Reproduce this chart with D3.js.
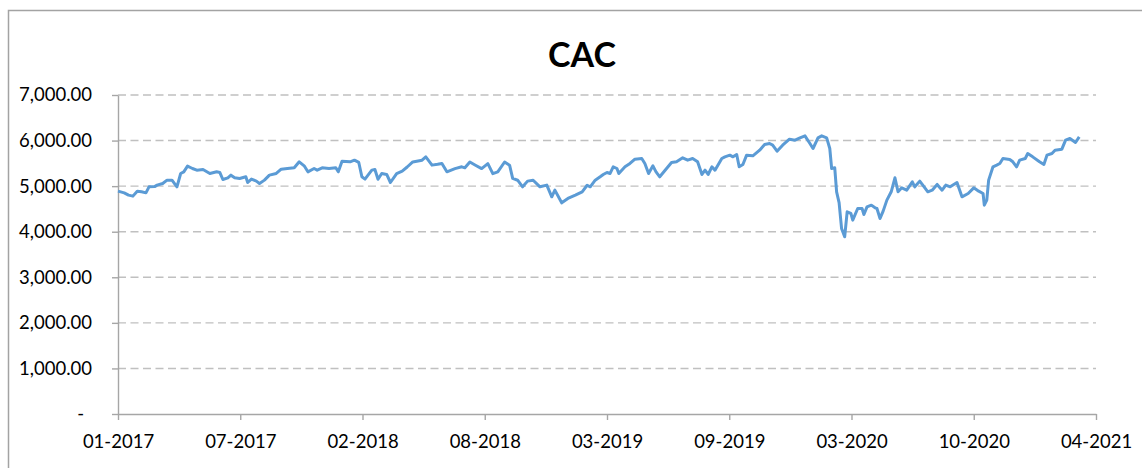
<html>

<head>
    <style>
        body { margin: 0; background: #fff; }
        text { font-family: Lato, "Open Sans", sans-serif; fill: #000; }
    </style>
</head>

<body>
    <svg id="container" height="468" width="1142">
        <g id="body"></g>
    </svg>
</body>
<script src="https://cdn.jsdelivr.net/npm/d3@7"></script>
<script>
    let title = "CAC"
    let yTicks = [0, 1000, 2000, 3000, 4000, 5000, 6000, 7000]
    // Excel puts a major tick every 197 days from the first date
    let xTickDates = ["2017-01-03", "2017-07-19", "2018-02-01", "2018-08-17", "2019-03-02",
        "2019-09-15", "2020-03-30", "2020-10-13", "2021-04-28"]

    // CAC 40 closes
    let cac2017 = [
        ["2017-01-03", 4890], ["2017-01-13", 4853], ["2017-01-20", 4803], ["2017-01-27", 4781],
        ["2017-02-03", 4890], ["2017-02-10", 4876], ["2017-02-17", 4853], ["2017-02-22", 4985],
        ["2017-03-03", 4990], ["2017-03-07", 5022], ["2017-03-16", 5059], ["2017-03-23", 5132],
        ["2017-03-31", 5132], ["2017-04-08", 4985], ["2017-04-14", 5278], ["2017-04-19", 5314],
        ["2017-04-25", 5439], ["2017-05-03", 5387], ["2017-05-10", 5351], ["2017-05-20", 5365],
        ["2017-05-31", 5278], ["2017-06-11", 5314], ["2017-06-16", 5300], ["2017-06-21", 5146],
        ["2017-06-29", 5183], ["2017-07-04", 5241], ["2017-07-10", 5183], ["2017-07-18", 5168],
        ["2017-07-28", 5205], ["2017-07-31", 5080], ["2017-08-06", 5154], ["2017-08-14", 5110],
        ["2017-08-19", 5059], ["2017-08-27", 5132], ["2017-09-04", 5241], ["2017-09-15", 5278],
        ["2017-09-23", 5373], ["2017-10-03", 5387], ["2017-10-14", 5402], ["2017-10-22", 5534],
        ["2017-10-30", 5446], ["2017-11-05", 5314], ["2017-11-15", 5387], ["2017-11-20", 5351],
        ["2017-11-28", 5402], ["2017-12-09", 5387], ["2017-12-20", 5402], ["2017-12-24", 5314],
        ["2017-12-30", 5548]
    ]
    let cac2018 = [
        ["2018-01-12", 5534], ["2018-01-19", 5570], ["2018-01-26", 5520], ["2018-01-31", 5205],
        ["2018-02-05", 5154], ["2018-02-16", 5351], ["2018-02-21", 5365], ["2018-02-26", 5150],
        ["2018-03-04", 5278], ["2018-03-12", 5256], ["2018-03-18", 5080], ["2018-03-28", 5275],
        ["2018-04-06", 5329], ["2018-04-14", 5420], ["2018-04-23", 5530], ["2018-05-08", 5570],
        ["2018-05-14", 5643], ["2018-05-24", 5461], ["2018-06-02", 5480], ["2018-06-09", 5497],
        ["2018-06-17", 5315], ["2018-06-30", 5385], ["2018-07-11", 5424], ["2018-07-16", 5402],
        ["2018-07-24", 5530], ["2018-08-02", 5460], ["2018-08-12", 5385], ["2018-08-22", 5495],
        ["2018-08-30", 5275], ["2018-09-07", 5315], ["2018-09-18", 5530], ["2018-09-26", 5460],
        ["2018-10-01", 5170], ["2018-10-09", 5130], ["2018-10-17", 4985], ["2018-10-25", 5110],
        ["2018-11-03", 5130], ["2018-11-14", 4985], ["2018-11-25", 5022], ["2018-12-03", 4766],
        ["2018-12-08", 4912], ["2018-12-19", 4634], ["2018-12-29", 4730]
    ]
    let cac2019 = [
        ["2019-01-10", 4803], ["2019-01-21", 4876], ["2019-01-29", 5020], ["2019-02-03", 4985],
        ["2019-02-11", 5130], ["2019-02-19", 5205], ["2019-02-24", 5255], ["2019-03-02", 5300],
        ["2019-03-07", 5278], ["2019-03-12", 5424], ["2019-03-18", 5387], ["2019-03-21", 5278],
        ["2019-03-31", 5424], ["2019-04-08", 5497], ["2019-04-16", 5592], ["2019-04-27", 5607],
        ["2019-05-02", 5497], ["2019-05-08", 5278], ["2019-05-15", 5446], ["2019-05-20", 5314],
        ["2019-05-26", 5205], ["2019-06-06", 5387], ["2019-06-14", 5519], ["2019-06-22", 5534],
        ["2019-07-02", 5621], ["2019-07-10", 5570], ["2019-07-18", 5607], ["2019-07-26", 5534],
        ["2019-08-02", 5256], ["2019-08-07", 5351], ["2019-08-12", 5256], ["2019-08-18", 5424],
        ["2019-08-23", 5351], ["2019-09-03", 5607], ["2019-09-08", 5643], ["2019-09-16", 5680],
        ["2019-09-21", 5643], ["2019-09-27", 5695], ["2019-10-01", 5424], ["2019-10-07", 5475],
        ["2019-10-13", 5680], ["2019-10-23", 5665], ["2019-11-03", 5789], ["2019-11-11", 5914],
        ["2019-11-19", 5936], ["2019-11-24", 5899], ["2019-12-01", 5767], ["2019-12-10", 5899],
        ["2019-12-21", 6031], ["2019-12-30", 6009]
    ]
    let cac2020 = [
        ["2020-01-07", 6059], ["2020-01-15", 6103], ["2020-01-23", 5936], ["2020-01-28", 5826],
        ["2020-02-05", 6059], ["2020-02-11", 6103], ["2020-02-19", 6059], ["2020-02-24", 5826],
        ["2020-02-27", 5387], ["2020-03-03", 5402], ["2020-03-06", 4876], ["2020-03-10", 4640],
        ["2020-03-14", 4072], ["2020-03-19", 3888], ["2020-03-23", 4436], ["2020-03-29", 4401],
        ["2020-04-01", 4254], ["2020-04-09", 4510], ["2020-04-16", 4510], ["2020-04-19", 4378],
        ["2020-04-24", 4546], ["2020-05-01", 4583], ["2020-05-07", 4524], ["2020-05-10", 4510],
        ["2020-05-15", 4291], ["2020-05-20", 4452], ["2020-05-26", 4693], ["2020-06-02", 4876],
        ["2020-06-08", 5183], ["2020-06-13", 4876], ["2020-06-19", 4963], ["2020-06-27", 4912],
        ["2020-07-06", 5095], ["2020-07-10", 4985], ["2020-07-18", 5110], ["2020-07-25", 4985],
        ["2020-07-31", 4876], ["2020-08-07", 4912], ["2020-08-15", 5037], ["2020-08-23", 4912],
        ["2020-08-29", 5022], ["2020-09-05", 4985], ["2020-09-16", 5080], ["2020-09-24", 4766],
        ["2020-10-04", 4839], ["2020-10-13", 4963], ["2020-10-21", 4890], ["2020-10-28", 4839],
        ["2020-10-30", 4583], ["2020-11-03", 4693], ["2020-11-06", 5132], ["2020-11-13", 5424],
        ["2020-11-19", 5461], ["2020-11-24", 5497], ["2020-11-29", 5607], ["2020-12-10", 5585],
        ["2020-12-15", 5534], ["2020-12-21", 5424], ["2020-12-26", 5570]
    ]
    let cac2021 = [
        ["2021-01-04", 5607], ["2021-01-08", 5716], ["2021-01-16", 5643], ["2021-01-27", 5534],
        ["2021-02-03", 5475], ["2021-02-08", 5680], ["2021-02-16", 5716], ["2021-02-21", 5789],
        ["2021-03-04", 5811], ["2021-03-10", 6009], ["2021-03-17", 6045], ["2021-03-26", 5958],
        ["2021-04-01", 6081]
    ]

    let parse = d3.utcParse("%Y-%m-%d")
    let data = [].concat(cac2017, cac2018, cac2019, cac2020, cac2021)
        .map(d => ({ date: parse(d[0]), value: d[1] }))
    let tickDates = xTickDates.map(parse)

    let svg = d3.select("#container")
    let body = d3.select("#body")

    // chart area border (runs off the right and bottom of the picture)
    svg.insert("rect", "#body")
        .attr("x", 8.5).attr("y", 10.5)
        .attr("width", 1200).attr("height", 600)
        .attr("fill", "white")
        .attr("stroke", "#a3a3a3")
        .attr("stroke-width", 1.5)

    let plotLeft = 118, plotRight = 1096, plotTop = 95, plotBottom = 414

    let xScale = d3.scaleUtc()
        .domain([tickDates[0], tickDates[tickDates.length - 1]])
        .range([plotLeft, plotRight])
    let yScale = d3.scaleLinear()
        .domain([0, 7000])
        .range([plotBottom, plotTop])

    // dashed gridlines
    body.append("g").selectAll("line")
        .data(yTicks.filter(d => d > 0))
        .enter().append("line")
        .attr("x1", plotLeft).attr("x2", plotRight)
        .attr("y1", d => yScale(d)).attr("y2", d => yScale(d))
        .attr("stroke", "#c0c0c0")
        .attr("stroke-width", 1.4)
        .attr("stroke-dasharray", "8,4.5")

    let yAxis = d3.axisLeft(yScale)
        .tickValues(yTicks)
        .tickSize(6)
        .tickSizeOuter(0)
        .tickPadding(20)
        .tickFormat(d => d === 0 ? "-" : d3.format(",.2f")(d))

    let yG = body.append("g")
        .attr("transform", `translate(${plotLeft},0)`)
        .call(yAxis)
    yG.selectAll("text").style("font-size", "18.5px").style("font-family", "Lato")
    yG.selectAll(".tick").filter(d => d === 0).select("text").attr("dx", -8)

    let xAxis = d3.axisBottom(xScale)
        .tickValues(tickDates)
        .tickSize(6)
        .tickSizeOuter(0)
        .tickPadding(15)
        .tickFormat(d3.utcFormat("%m-%Y"))

    let xG = body.append("g")
        .attr("transform", `translate(0,${plotBottom})`)
        .call(xAxis)
    xG.selectAll("text").style("font-size", "18.5px").style("font-family", "Lato")

    svg.selectAll(".domain, .tick line")
        .attr("stroke", "#a6a6a6")
        .attr("stroke-width", 1.4)

    let line = d3.line()
        .x(d => xScale(d.date))
        .y(d => yScale(d.value))

    body.append("path")
        .datum(data)
        .attr("d", line)
        .attr("fill", "none")
        .attr("stroke", "#5b9bd5")
        .attr("stroke-width", 3)
        .attr("stroke-linejoin", "round")

    body.append("text")
        .attr("x", 582)
        .attr("y", 67)
        .attr("text-anchor", "middle")
        .style("font-size", "34px")
        .style("font-weight", "bold")
        .text(title)
</script>

</html>
